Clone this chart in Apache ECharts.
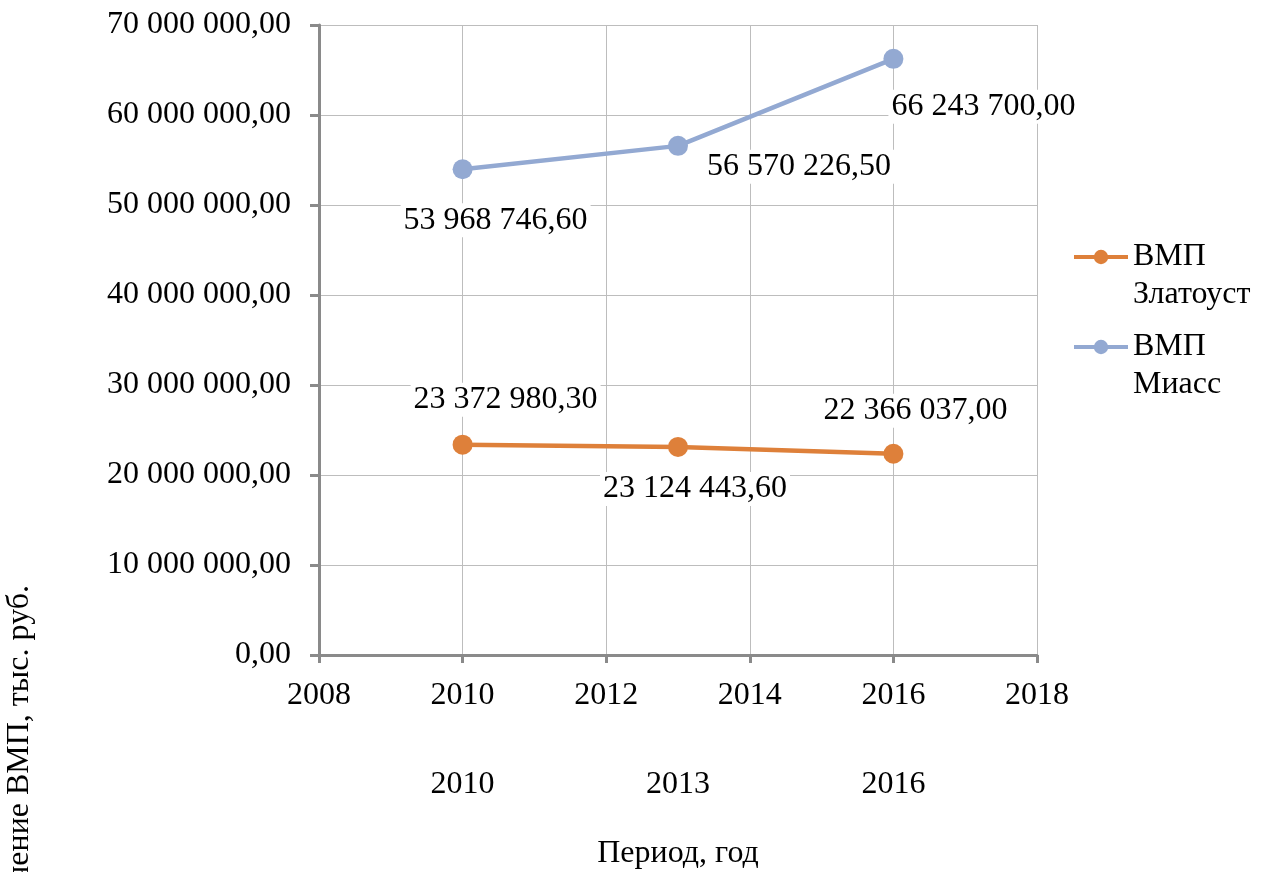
<!DOCTYPE html>
<html>
<head>
<meta charset="utf-8">
<script src="https://cdn.jsdelivr.net/npm/echarts@6/dist/echarts.min.js"></script>
<style>html,body{margin:0;padding:0;background:#fff}#c{width:1269px;height:872px}</style>
</head>
<body>
<div id="c"></div>
<script>
const years = [2010, 2013, 2016];
const seriesNames = ['ВМП Златоуст', 'ВМП Миасс'];
const zlatoust = [23372980.30, 23124443.60, 22366037.00];
const miass = [53968746.60, 56570226.50, 66243700.00];
const xMin = 2008, xMax = 2018, xStep = 2;
const yMin = 0, yMax = 70000000, yStep = 10000000;
const xTitle = 'Период, год';
const yTitle = 'Значение ВМП, тыс. руб.';

function fmt(v) {
  const parts = Number(v).toFixed(2).split('.');
  return parts[0].replace(/\B(?=(\d{3})+(?!\d))/g, ' ') + ',' + parts[1];
}
const FONT = 'Liberation Serif';
const FS = 32;
const zOff = [[43, -45], [17, 42], [22, -43]];
const mOff = [[33, 51], [121, 21], [90, 48]];

function build(vals, offs) {
  return years.map((y, i) => ({
    value: [y, vals[i]],
    label: { offset: offs[i] }
  }));
}
const labelCommon = {
  show: true, position: 'inside', color: '#000', fontFamily: FONT, fontSize: FS,
  backgroundColor: '#fff', padding: [1, 3],
  formatter: p => fmt(p.value[1])
};

const chart = echarts.init(document.getElementById('c'));
chart.setOption({
  animation: false,
  backgroundColor: '#fff',
  grid: { left: 319, right: 232, top: 25, bottom: 217, containLabel: false, outerBoundsMode: 'none' },
  xAxis: [{
    type: 'value', min: xMin, max: xMax, interval: xStep,
    axisLine: { show: true, lineStyle: { color: '#8a8a8a', width: 3 } },
    axisTick: { show: true, length: 8, lineStyle: { color: '#8a8a8a', width: 3 } },
    axisLabel: { color: '#000', fontFamily: FONT, fontSize: FS, margin: 25, formatter: v => String(v) },
    splitLine: { show: true, lineStyle: { color: '#bdbdbd', width: 1 } },
    name: xTitle, nameLocation: 'middle', nameGap: 183,
    nameTextStyle: { color: '#000', fontFamily: FONT, fontSize: FS }
  }, {
    type: 'value', min: xMin, max: xMax, interval: 1, position: 'bottom',
    axisLine: { show: false }, axisTick: { show: false }, splitLine: { show: false },
    axisLabel: {
      color: '#000', fontFamily: FONT, fontSize: FS, margin: 114,
      formatter: v => years.indexOf(v) >= 0 ? String(v) : ''
    }
  }],
  yAxis: {
    type: 'value', min: yMin, max: yMax, interval: yStep,
    axisLine: { show: true, lineStyle: { color: '#8a8a8a', width: 3 } },
    axisTick: { show: true, length: 9, lineStyle: { color: '#8a8a8a', width: 3 } },
    axisLabel: { color: '#000', fontFamily: FONT, fontSize: FS, margin: 28, padding: [6, 0, 0, 0], formatter: v => fmt(v) },
    splitLine: { show: true, lineStyle: { color: '#bdbdbd', width: 1 } }
  },
  legend: {
    orient: 'vertical', left: 1067, top: 195,
    itemWidth: 54, itemHeight: 18, itemGap: -24,
    data: seriesNames,
    formatter: n => '\n' + n.replace(' ', '\n'),
    lineStyle: { width: 4 },
    textStyle: { color: '#000', fontFamily: FONT, fontSize: FS, lineHeight: 38 }
  },
  graphic: [{
    type: 'text', x: 20, y: 585, rotation: Math.PI / 2,
    style: { text: yTitle, fill: '#000', font: FS + 'px "' + FONT + '"', align: 'right', verticalAlign: 'middle' }
  }],
  series: [{
    name: seriesNames[0], type: 'line', data: build(zlatoust, zOff),
    symbol: 'circle', symbolSize: 20,
    itemStyle: { color: '#DE803A' }, lineStyle: { color: '#DE803A', width: 4.5 },
    label: labelCommon
  }, {
    name: seriesNames[1], type: 'line', data: build(miass, mOff),
    symbol: 'circle', symbolSize: 20,
    itemStyle: { color: '#93A9D2' }, lineStyle: { color: '#93A9D2', width: 4.5 },
    label: labelCommon
  }]
});
</script>
</body>
</html>
